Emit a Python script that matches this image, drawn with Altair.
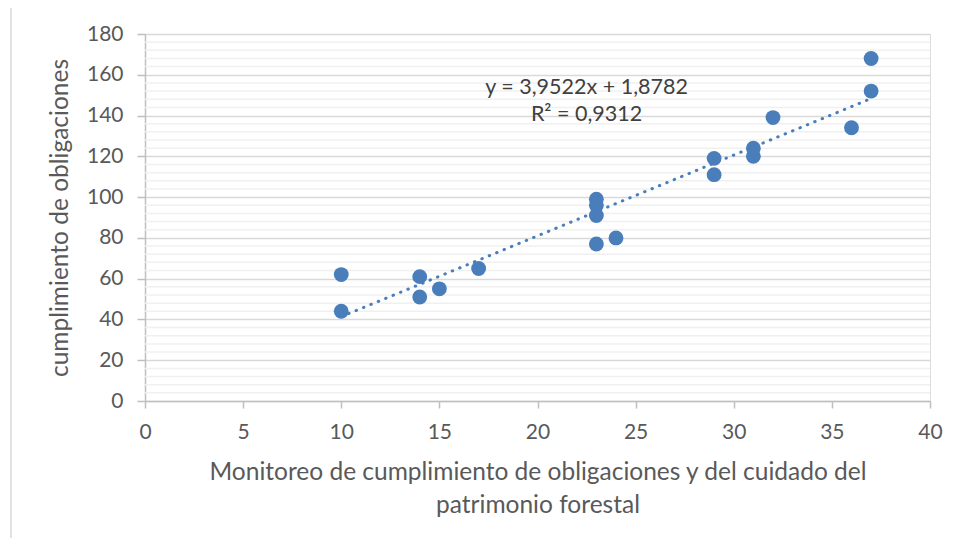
import altair as alt
import pandas as pd

# data
x_vals = [10, 10, 14, 14, 15, 17, 23, 23, 23, 23, 24, 29, 29, 31, 31, 32, 36, 37, 37]
y_vals = [62, 44, 61, 51, 55, 65, 99, 96, 91, 77, 80, 119, 111, 124, 120, 139, 134, 168, 152]
x_ticks = [0, 5, 10, 15, 20, 25, 30, 35, 40]
y_ticks = [0, 20, 40, 60, 80, 100, 120, 140, 160, 180]
minor_y = [v for v in range(4, 180, 4) if v % 20 != 0]
eq_lines = ["y = 3,9522x + 1,8782", "R² = 0,9312"]

x_title = ["Monitoreo de cumplimiento de obligaciones y del cuidado del", "patrimonio forestal"]
y_title = "cumplimiento de obligaciones"

FONT = "Lato"
BLUE = "#4a7ebb"

df = pd.DataFrame({"x": x_vals, "y": y_vals})
minor_df = pd.DataFrame({"y": minor_y})
eq_df = pd.DataFrame({"x": [22.5, 22.5], "y": [153.5, 140.3], "t": eq_lines})

xs = alt.Scale(domain=[0, 40], nice=False, zero=True)
ys = alt.Scale(domain=[0, 180], nice=False, zero=True)

x_axis = alt.Axis(values=x_ticks, title=x_title, grid=False, tickSize=7, tickColor="#bfbfbf",
                  domainColor="#bfbfbf", domainWidth=1.5, tickWidth=1.5, labelFlush=False,
                  labelFont=FONT, labelFontSize=21, labelColor="#595959", labelPadding=13,
                  titleFont=FONT, titleFontSize=24.5, titleColor="#595959", titleFontWeight="normal",
                  titlePadding=18, titleLineHeight=33)
y_axis = alt.Axis(values=y_ticks, title=y_title, grid=True, gridColor="#d9d9d9", gridWidth=1.5,
                  tickSize=8, tickColor="#bfbfbf", tickWidth=1.5, labelFlush=False,
                  domainColor="#bfbfbf", domainWidth=1.5,
                  labelFont=FONT, labelFontSize=21, labelColor="#595959", labelPadding=14,
                  titleFont=FONT, titleFontSize=24.5, titleColor="#595959", titleFontWeight="normal",
                  titlePadding=14)

minor = alt.Chart(minor_df).mark_rule(color="#f0f0f0", strokeWidth=1.5).encode(
    y=alt.Y("y:Q", scale=ys, axis=y_axis)
)

points = alt.Chart(df).mark_circle(size=220, color=BLUE, opacity=1).encode(
    x=alt.X("x:Q", scale=xs, axis=x_axis),
    y=alt.Y("y:Q", scale=ys, axis=y_axis),
)

trend = alt.Chart(df).transform_regression("x", "y", method="linear").mark_line(
    color=BLUE, strokeWidth=3, strokeDash=[0.5, 7.5], strokeCap="round"
).encode(
    x=alt.X("x:Q", scale=xs, axis=x_axis),
    y=alt.Y("y:Q", scale=ys, axis=y_axis),
)

eq = alt.Chart(eq_df).mark_text(font=FONT, fontSize=21.5, color="#404040", align="center",
                                baseline="middle").encode(
    x=alt.X("x:Q", scale=xs, axis=x_axis),
    y=alt.Y("y:Q", scale=ys, axis=y_axis),
    text="t:N",
)

frame_left = alt.Chart(pd.DataFrame({"a": [0]})).mark_rule(color="#d9d9d9", strokeWidth=1.5, clip=False).encode(
    x=alt.value(-134), y=alt.value(-28), y2=alt.value(600)
)
frame_top = alt.Chart(pd.DataFrame({"a": [0]})).mark_rule(color="#d9d9d9", strokeWidth=1.5, clip=False).encode(
    x=alt.value(-134), x2=alt.value(900), y=alt.value(-28)
)

chart = alt.layer(minor, points, trend, eq, frame_left, frame_top).properties(
    width=785, height=367,
    autosize=alt.AutoSizeParams(type="none"),
    padding={"left": 137, "top": 26, "right": 21, "bottom": 137},
).configure_view(stroke=None).configure(background="white")

chart.save("out.html", embed_options={"renderer": "svg", "actions": False})
